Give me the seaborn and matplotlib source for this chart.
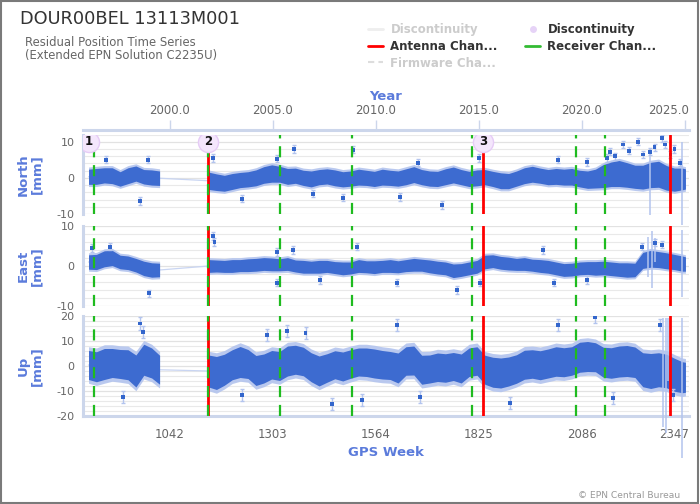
import numpy as np
import pandas as pd
import matplotlib
matplotlib.use("Agg")
import matplotlib.pyplot as plt
import matplotlib.transforms as mtrans
import seaborn as sns
from matplotlib.lines import Line2D
from matplotlib.patches import Rectangle

# ---------------- data ----------------
weeks = [836, 856, 876, 896, 916, 936, 956, 976, 996, 1016,
         1140, 1160, 1180, 1200, 1220, 1240, 1260, 1280, 1300, 1320,
         1340, 1360, 1380, 1400, 1420, 1440, 1460, 1480, 1500, 1520,
         1540, 1560, 1580, 1600, 1620, 1640, 1660, 1680, 1700, 1720,
         1740, 1760, 1780, 1800, 1820, 1840, 1860, 1880, 1900, 1920,
         1940, 1960, 1980, 2000, 2020, 2040, 2060, 2080, 2100, 2120,
         2140, 2160, 2180, 2200, 2220, 2240, 2260, 2280, 2300, 2320,
         2340, 2348]

north_mid = [0.3, 0.4, 0.7, 0.6, -0.3, 0.6, 1.2, 0.3, 0.1, -0.1,
             -0.8, -1.2, -1.5, -1.0, -0.6, -0.4, 0.0, 0.8, 1.2, 1.0,
             0.4, 0.6, 0.0, -0.3, 0.2, 0.4, 0.0, -0.4, -0.2, 0.2,
             0.0, -0.3, 0.2, 0.0, -0.2, 0.3, 0.9, 0.2, -0.2, -0.3,
             0.3, 0.8, 0.2, -0.3, 0.0, 0.2, -0.3, -0.8, -0.9, -0.2,
             0.6, 1.0, 0.6, 0.2, 0.4, 0.2, 0.3, -0.2, -0.5, -0.2,
             0.5, 1.0, 1.2, 0.8, 0.3, 0.2, 0.8, 1.0, 0.0, -0.5,
             -0.3, -0.3]
north_hw = [2.1, 2.2, 2.1, 2.2, 2.0, 2.2, 2.1, 2.0, 2.1, 2.0,
            2.4, 2.3, 2.2, 2.2, 2.1, 2.1, 2.2, 2.3, 2.4, 2.2,
            2.2, 2.1, 2.1, 2.2, 2.1, 2.1, 2.2, 2.1, 2.1, 2.2,
            2.1, 2.1, 2.2, 2.1, 2.1, 2.2, 2.2, 2.1, 2.1, 2.1,
            2.2, 2.2, 2.1, 2.1, 2.2, 2.1, 2.1, 2.2, 2.1, 2.1,
            2.2, 2.2, 2.1, 2.1, 2.2, 2.2, 2.3, 2.3, 2.4, 2.6,
            3.2, 3.4, 3.6, 3.4, 3.2, 3.3, 3.5, 3.6, 3.4, 3.2,
            3.0, 2.8]

east_mid = [1.0, 1.0, 1.8, 2.0, 1.0, 0.8, 0.2, -0.6, -1.0, -1.0,
            0.0, 0.0, -0.1, 0.0, 0.1, 0.2, 0.3, 0.5, 0.4, 0.3,
            0.5, 0.0, -0.2, -0.3, -0.2, -0.1, -0.4, -0.6, -0.5, 0.0,
            -0.2, -0.3, -0.1, 0.0, -0.2, 0.1, 0.3, 0.2, -0.1, -0.4,
            -0.6, -1.2, -1.0, -0.6, -0.2, 1.0, 1.2, 0.8, 0.6, 0.4,
            0.5, 0.2, 0.0, -0.2, -0.6, -1.0, -0.9, -0.6, -0.5, -0.6,
            -0.5, -0.7, -0.9, -1.0, -1.0, 1.4, 1.8, 1.6, 1.3, 1.0,
            0.6, 0.5]
east_hw = [1.8, 1.9, 2.0, 1.9, 1.7, 1.7, 1.7, 1.8, 1.8, 1.7,
           1.6, 1.5, 1.5, 1.6, 1.5, 1.6, 1.6, 1.6, 1.6, 1.5,
           1.6, 1.5, 1.6, 1.5, 1.6, 1.5, 1.5, 1.6, 1.5, 1.6,
           1.5, 1.6, 1.5, 1.6, 1.5, 1.5, 1.6, 1.5, 1.6, 1.6,
           1.6, 1.7, 1.6, 1.6, 1.6, 1.7, 1.6, 1.6, 1.6, 1.5,
           1.6, 1.5, 1.6, 1.6, 1.6, 1.6, 1.6, 1.6, 1.6, 1.7,
           1.7, 1.7, 1.7, 1.8, 1.7, 2.0, 2.1, 2.0, 2.0, 1.9,
           1.9, 1.8]

up_mid = [0.4, -0.3, 0.8, 1.2, 0.8, 0.5, -2.0, 2.5, 1.2, -1.5,
          -2.0, -2.8, -1.5, 0.5, 1.6, 0.8, -1.8, -1.0, 0.5, 0.0,
          2.0, 2.5, 1.8, -0.5, -2.0, -0.8, 0.5, -0.2, 0.8, 1.6,
          1.5, 1.0, 0.5, 0.2, -0.8, 2.0, 2.2, -1.5, -1.2, -0.5,
          -0.8, -0.2, -1.0, 1.5, 2.0, -1.5, -2.5, -2.8, -2.2, -1.2,
          0.5, 0.8, 0.3, 1.0, 1.8, 1.5, 2.0, 3.5, 3.8, 3.5,
          1.5, 1.2, 1.8, 2.0, 1.5, -1.5, -2.0, -1.5, -2.0, -3.5,
          -4.5, -4.5]
up_hw = [5.8, 6.0, 6.2, 5.8, 5.8, 6.0, 6.4, 6.2, 6.0, 5.8,
         6.4, 6.6, 6.2, 6.0, 6.2, 5.8, 6.0, 5.8, 5.7, 5.8,
         6.0, 5.8, 5.7, 5.8, 6.0, 5.7, 5.6, 5.8, 5.7, 5.6,
         5.7, 5.8, 5.7, 5.6, 6.0, 5.7, 5.8, 5.8, 5.6, 5.7,
         5.7, 5.6, 5.8, 5.7, 5.7, 5.8, 6.0, 6.0, 5.8, 5.7,
         5.8, 5.7, 5.8, 5.8, 5.9, 5.8, 5.7, 6.0, 6.0, 5.8,
         6.0, 6.1, 6.2, 6.2, 6.1, 6.8, 7.0, 6.8, 6.7, 6.6,
         6.2, 6.0]

# isolated points (outliers)
north_out_w = [880, 986, 966, 1151, 1224, 1313, 1356, 1404, 1480, 1506, 1625,
               1670, 1731, 1825, 2025, 2099, 2150, 2157, 2170, 2190, 2205,
               2228, 2240, 2258, 2270, 2289, 2296, 2310, 2320, 2334]
north_out_v = [5.0, 5.0, -6.4, 5.5, -5.8, 5.3, 8.0, -4.4, -5.5, 7.8, -5.3,
               4.2, -7.5, 5.5, 5.0, 4.4, 5.5, 7.2, 6.0, 9.2, 7.5,
               10.0, 6.5, 7.2, 8.5, 11.0, 9.2, 6.5, 8.0, 4.2]
east_out_w = [844, 890, 989, 1151, 1155, 1313, 1313, 1354, 1422, 1516, 1617,
              1769, 1828, 1987, 2015, 2099, 2238, 2271, 2289]
east_out_v = [4.5, 4.8, -6.8, 7.5, 6.0, 3.5, -4.2, 4.0, -3.5, 4.8, -4.2,
              -6.0, -4.2, 4.0, -4.2, -3.5, 4.8, 5.8, 5.3]
up_out_w = [923, 966, 974, 1224, 1288, 1338, 1386, 1452, 1528, 1617, 1676,
            1904, 2025, 2119, 2165, 2284, 2317]
up_out_v = [-12.4, 17.0, 13.6, -11.6, 12.4, 14.0, 13.2, -15.2, -13.6, 16.4,
            -12.4, -14.8, 16.4, 19.6, -12.8, 16.4, -11.6]

# long error bars near the end of the series
north_bar_w = [2258, 2339]
north_bar_lo = [-10.3, -13.0]
north_bar_hi = [8.4, 10.0]
east_bar_w = [2253, 2263, 2271, 2339]
east_bar_lo = [-2.8, -5.5, 1.0, -7.8]
east_bar_hi = [7.2, 8.8, 7.0, 9.0]
up_bar_w = [2291, 2299, 2304, 2339]
up_bar_lo = [-24.4, -26.8, -6.0, -36.8]
up_bar_hi = [19.2, 19.2, 19.2, 19.2]

disc_weeks = [837, 1138, 1835]
disc_labels = ["1", "2", "3"]
antenna_weeks = [1138, 1835, 2309]
receiver_weeks = [849, 1138, 1321, 1503, 1807, 2071, 2144]

gps_ticks = [1042, 1303, 1564, 1825, 2086, 2347]
gps_labels = ["1042", "1303", "1564", "1825", "2086", "2347"]
year_labels = ["2000.0", "2005.0", "2010.0", "2015.0", "2020.0", "2025.0"]

panel_names = ["North\n[mm]", "East\n[mm]", "Up\n[mm]"]
panel_ylim = [(-10, 12), (-10, 10), (-20, 20)]
panel_major = [[-10, 0, 10], [-10, 0, 10], [-20, -10, 0, 10, 20]]

# ---------------- style ----------------
sns.set_theme(style="white")
plt.rcParams["font.family"] = ["DejaVu Sans"]

W, H = 700, 504
fig = plt.figure(figsize=(7.0, 5.04), dpi=100)
fig.patch.set_facecolor("white")

def fx(px):
    return px / W

def fy(py):
    return 1 - py / H

L, R = 83, 689
panel_px = [(134.5, 214), (226, 306), (316, 416)]
XLIM = (822, 2357)

DOT = "#3366cc"
CORE = "#3d6bd0"
ERR = "#b3c4ee"
LINE_LIGHT = "#c9d5f2"
AXIS_BLUE = "#ccd6eb"
LABEL_BLUE = "#5b7bdb"
GRID = "#e9e9e9"

w_arr = np.array(weeks, dtype=float)
seg_masks = [w_arr < 1100, w_arr > 1100]

series = [
    (north_mid, north_hw, 0.6, north_out_w, north_out_v, 1.0,
     north_bar_w, north_bar_lo, north_bar_hi),
    (east_mid, east_hw, 0.5, east_out_w, east_out_v, 0.9,
     east_bar_w, east_bar_lo, east_bar_hi),
    (up_mid, up_hw, 1.5, up_out_w, up_out_v, 2.5,
     up_bar_w, up_bar_lo, up_bar_hi),
]


def shift_last_label(axis_obj, dx_px):
    labs = axis_obj.get_ticklabels()
    if labs:
        lab = labs[-1]
        lab.set_horizontalalignment("right")
        lab.set_transform(lab.get_transform() +
                          mtrans.ScaledTranslation(dx_px / 100, 0,
                                                   fig.dpi_scale_trans))


axes = []
for i, (top, bot) in enumerate(panel_px):
    ax = fig.add_axes([fx(L), fy(bot), fx(R - L), (bot - top) / H])
    axes.append(ax)
    mid, hw, ext, ow, ov, oerr, bw, blo, bhi = series[i]
    mid = np.array(mid)
    hw = np.array(hw)

    # thin connecting line (also bridges the data gap)
    df = pd.DataFrame({"week": weeks, "value": mid})
    sns.lineplot(data=df, x="week", y="value", ax=ax, color=LINE_LIGHT,
                 lw=0.9, sort=False, estimator=None, zorder=1)

    # dense band of daily solutions
    for m in seg_masks:
        ax.fill_between(w_arr[m], (mid - hw - ext)[m], (mid + hw + ext)[m],
                        color=ERR, lw=0, zorder=2, alpha=0.9)
        ax.fill_between(w_arr[m], (mid - hw)[m], (mid + hw)[m],
                        color=CORE, lw=0, zorder=3)

    # isolated points with their error bars
    ax.errorbar(ow, ov, yerr=oerr, fmt="none", ecolor=ERR, elinewidth=1,
                capsize=1.5, zorder=3)
    sns.scatterplot(x=ow, y=ov, ax=ax, color=DOT, s=7, marker="s",
                    edgecolor="none", zorder=4, legend=False)

    # long error bars (not clipped, like the reference)
    ax.vlines(bw, blo, bhi, color=ERR, lw=1.1, clip_on=False, zorder=3)

    # equipment changes
    for wk in antenna_weeks:
        ax.axvline(wk, color="#ff0000", lw=2.0, zorder=6)
    for wk in receiver_weeks:
        ax.axvline(wk, color="#1fbb1f", lw=1.6, ls=(0, (5, 3.5)), zorder=7)

    ax.set_xlim(*XLIM)
    ax.set_ylim(*panel_ylim[i])
    lo, hi = panel_ylim[i]
    ax.set_yticks(panel_major[i])
    ax.set_yticklabels([str(v) for v in panel_major[i]])
    ax.set_yticks(np.arange(lo, hi + 0.1, 2), minor=True)
    ax.yaxis.grid(True, which="minor", color=GRID, lw=0.8, zorder=0)
    ax.yaxis.grid(True, which="major", color="#e2e2e2", lw=0.9, zorder=0)
    ax.set_axisbelow(True)
    ax.tick_params(axis="y", which="both", length=0, labelsize=8,
                   labelcolor="#666666", pad=6)
    for s in ["top", "right", "bottom"]:
        ax.spines[s].set_visible(False)
    ax.spines["left"].set_color(AXIS_BLUE)
    ax.spines["left"].set_linewidth(2.2)
    ax.set_xlabel("")
    ax.set_ylabel("")
    ax.text(fx(30 - L) / fx(R - L), 0.5, panel_names[i], transform=ax.transAxes,
            rotation=90, ha="center", va="center", multialignment="center",
            color=LABEL_BLUE, fontsize=9.5, fontweight="bold", linespacing=1.05)
    if i < 2:
        ax.set_xticks([])
    else:
        ax.set_xticks(gps_ticks)
        ax.set_xticklabels(gps_labels)
        ax.spines["bottom"].set_visible(True)
        ax.spines["bottom"].set_color(AXIS_BLUE)
        ax.spines["bottom"].set_linewidth(2.2)
        ax.tick_params(axis="x", length=7.5, width=1, color=AXIS_BLUE,
                       labelsize=8.5, labelcolor="#666666", pad=1.5)
        ax.set_xlabel("GPS Week", color=LABEL_BLUE, fontsize=9.5,
                      fontweight="bold", labelpad=3)
        shift_last_label(ax.xaxis, 4)

# discontinuity markers on the North panel
axN = axes[0]
sns.scatterplot(x=disc_weeks, y=[10] * len(disc_weeks), ax=axN, s=210,
                color="#f4e6fc", edgecolor="#e6ccf6", linewidth=1,
                zorder=8, legend=False)
for wk, lab in zip(disc_weeks, disc_labels):
    axN.text(wk, 10, lab, ha="center", va="center", fontsize=8.5,
             fontweight="bold", color="#111111", zorder=9)

# top year axis
axT = fig.add_axes([fx(L), fy(130), fx(R - L), 0.0001])
axT.set_xlim(*XLIM)
axT.set_yticks([])
axT.patch.set_alpha(0)
for s in ["left", "right", "bottom"]:
    axT.spines[s].set_visible(False)
axT.spines["top"].set_color(AXIS_BLUE)
axT.spines["top"].set_linewidth(2.2)
axT.xaxis.tick_top()
axT.set_xticks(gps_ticks)
axT.set_xticklabels(year_labels)
axT.tick_params(axis="x", length=7.5, width=1, color=AXIS_BLUE,
                labelsize=8.5, labelcolor="#666666", pad=2)
axT.xaxis.set_label_position("top")
axT.set_xlabel("Year", color=LABEL_BLUE, fontsize=9.5, fontweight="bold",
               labelpad=3)
shift_last_label(axT.xaxis, 4)

# titles
fig.text(fx(20), fy(24), "DOUR00BEL 13113M001", fontsize=12.8,
         color="#333333", va="baseline", ha="left")
fig.text(fx(25), fy(42), "Residual Position Time Series", fontsize=8.4,
         color="#666666", va="center", ha="left")
fig.text(fx(25), fy(56), "(Extended EPN Solution C2235U)", fontsize=8.4,
         color="#666666", va="center", ha="left")

# legend
handles = [
    Line2D([], [], color="#eeeeee", lw=2),
    Line2D([], [], color="#ff0000", lw=2),
    Line2D([], [], color="#dddddd", lw=1.5, ls=(0, (3, 2))),
    Line2D([], [], marker="o", ls="none", markersize=5,
           markerfacecolor="#e6d3f7", markeredgecolor="none"),
    Line2D([], [], color="#33bb33", lw=2),
]
labels = ["Discontinuity", "Antenna Chan...", "Firmware Cha...",
          "Discontinuity", "Receiver Chan..."]
leg = fig.legend(handles, labels, ncol=2, loc="upper left",
                 bbox_to_anchor=(fx(368), fy(23)), frameon=False,
                 prop={"weight": "bold", "size": 8.5}, handlelength=1.3,
                 handletextpad=0.6, columnspacing=2.3, labelspacing=0.32,
                 borderaxespad=0, borderpad=0)
for t, c in zip(leg.get_texts(),
                ["#cccccc", "#333333", "#cccccc", "#333333", "#333333"]):
    t.set_color(c)

fig.text(fx(680), fy(495), "\u00a9 EPN Central Bureau", fontsize=6.6,
         color="#999999", ha="right", va="center")

# outer border
fig.patches.append(Rectangle((0.001, 0.002), 0.996, 0.996,
                             transform=fig.transFigure, fill=False,
                             edgecolor="#7a7a7a", lw=1.5))

fig.savefig("out.png", dpi=100)
